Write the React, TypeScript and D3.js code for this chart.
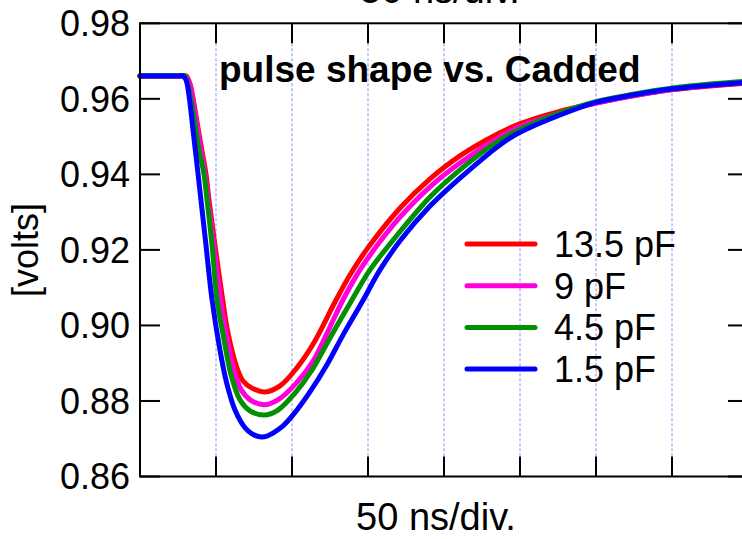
import React from "react";
import * as d3 from "d3";

// ---- data (time in ns, value in volts) ----
const seriesNames = ["13.5 pF", "9 pF", "4.5 pF", "1.5 pF"];
const seriesColors = ["#ff0000", "#ff00dd", "#009000", "#0000ff"];

const red135: [number, number][] = [
  [0, 0.96605], [10, 0.96605], [20, 0.96605], [27, 0.96605], [30.3, 0.96605],
  [32.9, 0.9639], [36.2, 0.957], [39.5, 0.9491],
  [43.4, 0.9401], [45.4, 0.9332], [49.3, 0.9213], [54.4, 0.9068], [57.9, 0.898],
  [63.6, 0.889], [67.8, 0.8853], [73.7, 0.8834], [82.2, 0.8824], [92.1, 0.884],
  [103.1, 0.8887], [113.8, 0.895], [128.3, 0.9062], [138.2, 0.9134], [149.3, 0.9202],
  [171.1, 0.9311], [190.8, 0.9388], [210.5, 0.9449], [236.8, 0.951], [249.3, 0.9533],
  [274.3, 0.9565], [299.3, 0.9588], [324.3, 0.9608], [349.3, 0.9624], [375, 0.9634],
  [400, 0.9642],
];

const magenta9: [number, number][] = [
  [0, 0.96605], [10, 0.96605], [20, 0.96605], [26.5, 0.96605], [29.8, 0.96605],
  [32.6, 0.964], [35.9, 0.957], [39.1, 0.949],
  [42.8, 0.9401], [44.8, 0.9332], [48.6, 0.9213], [53.1, 0.9068], [56.8, 0.8975],
  [62.0, 0.888], [66.5, 0.883], [72.5, 0.8803], [81.6, 0.879], [91.5, 0.8805],
  [102.5, 0.8846], [113.8, 0.8905], [123.7, 0.8985], [133.6, 0.9068], [144.7, 0.9147],
  [157.9, 0.9222], [171.1, 0.9287], [190.8, 0.9367], [210.5, 0.943], [236.8, 0.9499],
  [249.3, 0.9525], [274.3, 0.956], [299.3, 0.9588], [324.3, 0.9608], [349.3, 0.9624],
  [375, 0.9635], [400, 0.9643],
];

const green45: [number, number][] = [
  [0, 0.9661], [10, 0.9661], [20, 0.9661], [26, 0.9661], [29.3, 0.9661],
  [31.9, 0.9629], [35.2, 0.9557], [38.5, 0.947],
  [42.1, 0.9401], [44.1, 0.9332], [47.4, 0.9213], [50.7, 0.9068], [55.3, 0.8962],
  [59.9, 0.8869], [65.8, 0.8803], [72.4, 0.8774], [81.6, 0.8763], [90.8, 0.8776],
  [102, 0.8821], [113.2, 0.8882], [125, 0.8967], [139.5, 0.9068], [151.3, 0.9147],
  [164.5, 0.9216], [190.8, 0.934], [210.5, 0.9412], [236.8, 0.9491], [249.3, 0.9518],
  [274.3, 0.956], [299.3, 0.9592], [324.3, 0.9612], [349.3, 0.9628], [375, 0.9639],
  [400, 0.9647],
];

const blue15: [number, number][] = [
  [0, 0.96605], [10, 0.96605], [20, 0.96605], [25.5, 0.96605], [28.3, 0.96605],
  [30.3, 0.965], [32.2, 0.961], [34.9, 0.9517],
  [38.2, 0.9401], [40.1, 0.9332], [43.4, 0.9213], [47.4, 0.9068], [52.6, 0.8935],
  [57.0, 0.8848], [62.5, 0.8776], [69.1, 0.8729], [73.7, 0.8713], [78.9, 0.8705],
  [83.6, 0.8707], [87.5, 0.8715], [94.1, 0.8734], [100.7, 0.8763], [111.8, 0.8824],
  [123.0, 0.8896], [133.6, 0.8975], [146.1, 0.9062], [157.9, 0.9147], [171.1, 0.9224],
  [190.8, 0.9316], [210.5, 0.939], [236.8, 0.9478], [249.3, 0.951], [274.3, 0.9554],
  [299.3, 0.959], [324.3, 0.961], [349.3, 0.9626], [375, 0.9636], [400, 0.9644],
];

const allSeries = [red135, magenta9, green45, blue15];

const xTicks = [0, 50, 100, 150, 200, 250, 300, 350, 400];
const yTicks = [0.86, 0.88, 0.9, 0.92, 0.94, 0.96, 0.98];
const xLabel = "50 ns/div.";
const yLabel = "[volts]";
const title = "pulse shape vs. Cadded";

const W = 742;
const H = 539;
const FONT = "Liberation Sans, Arial, Helvetica, sans-serif";

export default function App() {
  const x = d3.scaleLinear().domain([0, 400]).range([140, 748]);
  const y = d3.scaleLinear().domain([0.86, 0.98]).range([476.5, 23.3]);
  const line = d3
    .line<[number, number]>()
    .x((d) => x(d[0]))
    .y((d) => y(d[1]))
    .curve(d3.curveCatmullRom.alpha(0.5));

  const x0 = x(0);
  const x1 = x(400);
  const yTop = y(0.98);
  const yBot = y(0.86);
  const tickLen = 20;

  return (
    <svg
      width={W}
      height={H}
      style={{ position: "fixed", left: 0, top: 0, background: "#fff" }}
      fontFamily={FONT}
    >
      <rect x={0} y={0} width={W} height={H} fill="#fff" />
      {/* grid */}
      {xTicks.slice(1, -1).map((t) => (
        <line
          key={"g" + t}
          x1={x(t)}
          x2={x(t)}
          y1={yTop}
          y2={yBot}
          stroke="#8a8aff"
          strokeWidth={1}
          strokeDasharray="3,2"
        />
      ))}
      {/* series */}
      {allSeries.map((s, i) => (
        <path
          key={"s" + i}
          d={line(s) || ""}
          fill="none"
          stroke={seriesColors[i]}
          strokeWidth={5}
          strokeLinejoin="round"
          strokeLinecap="round"
        />
      ))}
      {/* frame */}
      <rect
        x={x0}
        y={yTop}
        width={x1 - x0}
        height={yBot - yTop}
        fill="none"
        stroke="#000"
        strokeWidth={2}
      />
      {/* x ticks */}
      {xTicks.map((t) => (
        <g key={"xt" + t}>
          <line x1={x(t)} x2={x(t)} y1={yTop} y2={yTop + tickLen} stroke="#000" strokeWidth={2} />
          <line x1={x(t)} x2={x(t)} y1={yBot} y2={yBot - tickLen} stroke="#000" strokeWidth={2} />
        </g>
      ))}
      {/* y ticks */}
      {yTicks.map((v) => (
        <g key={"yt" + v}>
          <line x1={x0} x2={x0 + tickLen} y1={y(v)} y2={y(v)} stroke="#000" strokeWidth={2} />
          <line x1={x1} x2={x1 - tickLen} y1={y(v)} y2={y(v)} stroke="#000" strokeWidth={2} />
          <text x={130} y={y(v)} dy="0.36em" textAnchor="end" fontSize={36} fill="#000">
            {d3.format(".2f")(v)}
          </text>
        </g>
      ))}
      {/* axis labels */}
      <text x={436} y={530} textAnchor="middle" fontSize={38} fill="#000">
        {xLabel}
      </text>
      <text x={440} y={3} textAnchor="middle" fontSize={38} fill="#000">
        {xLabel}
      </text>
      <text
        transform={`translate(38,250) rotate(-90)`}
        textAnchor="middle"
        fontSize={36}
        fill="#000"
      >
        {yLabel}
      </text>
      {/* title */}
      <text x={219} y={82} fontSize={37} fontWeight="bold" fill="#000">
        {title}
      </text>
      {/* legend */}
      {seriesNames.map((n, i) => {
        const ly = 244 + i * 41.7;
        return (
          <g key={"lg" + i}>
            <line x1={467} x2={535} y1={ly} y2={ly} stroke={seriesColors[i]} strokeWidth={5} strokeLinecap="round" />
            <text x={554} y={ly} dy="0.36em" fontSize={36} fill="#000">
              {n}
            </text>
          </g>
        );
      })}
    </svg>
  );
}
